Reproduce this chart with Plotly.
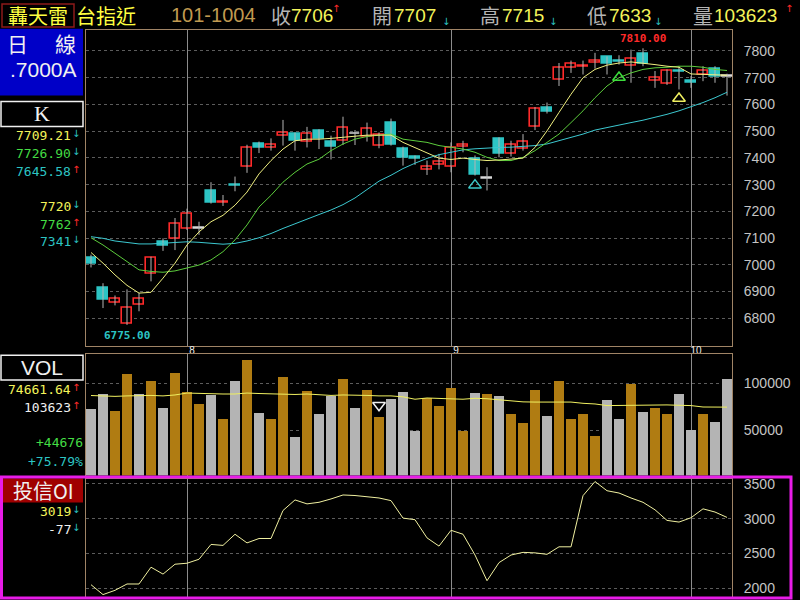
import plotly.graph_objects as go

W, H = 800, 600

# ---------------- data ----------------
title_name = "轟天雷"
title_sym = "台指近"
date_label = "101-1004"
month_start_idx = [8, 30, 50]
month_labels = ["8", "9", "10"]

opens = [7024, 6913, 6856, 6778, 6851, 6965, 7084, 7096, 7136, 7136,
         7275, 7230, 7300, 7368, 7452, 7438, 7482, 7489, 7460, 7500,
         7460, 7462, 7489, 7478, 7446, 7532, 7433, 7403, 7357, 7372,
         7366, 7440, 7396, 7324, 7470, 7415, 7433, 7516, 7588, 7693,
         7737, 7740, 7755, 7777, 7763, 7745, 7789, 7688, 7677, 7727,
         7690, 7712, 7734, 7707]
highs = [7038, 6931, 6885, 6908, 6894, 7030, 7099, 7175, 7210, 7161,
         7309, 7261, 7330, 7449, 7461, 7473, 7542, 7495, 7516, 7507,
         7483, 7554, 7504, 7532, 7495, 7547, 7442, 7409, 7390, 7415,
         7458, 7464, 7409, 7365, 7477, 7464, 7489, 7590, 7607, 7755,
         7764, 7764, 7793, 7780, 7784, 7805, 7810, 7725, 7731, 7743,
         7706, 7743, 7743, 7715]
lows = [6990, 6838, 6848, 6775, 6826, 6938, 7052, 7055, 7130, 7112,
        7229, 7220, 7275, 7344, 7418, 7427, 7446, 7427, 7439, 7433,
        7394, 7448, 7448, 7461, 7436, 7446, 7371, 7374, 7336, 7357,
        7346, 7421, 7334, 7278, 7402, 7405, 7427, 7504, 7566, 7669,
        7718, 7712, 7734, 7712, 7749, 7681, 7743, 7662, 7673, 7656,
        7662, 7687, 7681, 7633]
closes = [7004, 6867, 6871, 6838, 6873, 7027, 7072, 7152, 7189, 7136,
          7232, 7234, 7294, 7438, 7438, 7450, 7494, 7465, 7489, 7470,
          7440, 7513, 7489, 7510, 7485, 7448, 7400, 7398, 7365, 7384,
          7437, 7448, 7336, 7324, 7415, 7449, 7461, 7584, 7572, 7737,
          7750, 7746, 7763, 7750, 7758, 7770, 7752, 7700, 7725, 7723,
          7682, 7727, 7703, 7706]

ma5 = [7046, 7006, 6962, 6923, 6894, 6897, 6950, 7006, 7074, 7123,
       7161, 7185, 7223, 7272, 7340, 7390, 7433, 7464, 7470, 7470,
       7473, 7477, 7480, 7485, 7485, 7485, 7458, 7439, 7421, 7399,
       7394, 7399, 7394, 7390, 7392, 7396, 7399, 7439, 7501, 7570,
       7638, 7700, 7731, 7747, 7755, 7759, 7755, 7749, 7743, 7739,
       7714, 7712, 7711, 7709.21]
ma10 = [7101, 7074, 7043, 7012, 6981, 6975, 6972, 6977, 6987, 6999,
        7018, 7049, 7093, 7149, 7216, 7260, 7309, 7346, 7377, 7395,
        7427, 7452, 7470, 7480, 7485, 7489, 7470, 7464, 7458, 7446,
        7439, 7433, 7421, 7402, 7390, 7390, 7402, 7427, 7458, 7489,
        7532, 7576, 7625, 7669, 7700, 7718, 7731, 7737, 7739, 7743,
        7743, 7739, 7731, 7726.90]
ma20 = [7105, 7099, 7089, 7084, 7078, 7078, 7080, 7084, 7086, 7084,
        7080, 7077, 7080, 7089, 7101, 7117, 7136, 7154, 7173, 7188,
        7205, 7225, 7250, 7282, 7313, 7335, 7360, 7380, 7398, 7412,
        7422, 7430, 7434, 7437, 7439, 7440, 7442, 7446, 7452, 7464,
        7477, 7489, 7504, 7514, 7524, 7532, 7541, 7551, 7563, 7576,
        7591, 7607, 7625, 7645.58]
next_ma = [(7720, False), (7762, True), (7341, False)]

volume = [72800, 88700, 69900, 109000, 88700, 101800, 73800, 110000, 90400, 77300,
          87600, 62100, 101800, 124000, 68100, 62100, 105700, 43300, 91200, 66700,
          85800, 103900, 73800, 92200, 63800, 83400, 90000, 48900, 84000, 75200,
          95100, 49700, 89400, 88000, 85800, 67400, 58200, 92200, 65600, 101800,
          62100, 67400, 44400, 81600, 61400, 98600, 68800, 73800, 67400, 88000,
          50400, 66700, 58947, 103623]
vol_up = ["d", "d", "u", "u", "d", "u", "d", "u", "u", "u",
          "d", "u", "d", "u", "d", "u", "u", "d", "u", "d",
          "d", "u", "d", "u", "u", "d", "d", "d", "u", "u",
          "u", "u", "d", "u", "d", "u", "u", "u", "d", "u",
          "u", "u", "u", "d", "d", "u", "d", "u", "u", "d",
          "d", "u", "d", "d"]
vol_ma = [86900, 86500, 86000, 86500, 87000, 87000, 86500, 87500, 89500, 89000,
          88500, 88500, 88500, 89500, 89000, 88500, 88000, 88000, 88500, 87500,
          87000, 87500, 87500, 87000, 86500, 86500, 85500, 83000, 84300, 83500,
          83400, 83000, 84000, 83500, 82300, 81500, 80200, 80000, 79800, 79800,
          80000, 78700, 78000, 76300, 76500, 77000, 77000, 76800, 77000, 76600,
          76300, 74800, 74500, 74661.64]

oi = [2053, 1911, 1972, 2063, 2063, 2304, 2205, 2347, 2361, 2418,
      2631, 2617, 2777, 2653, 2716, 2716, 3118, 3270, 3213, 3236,
      3284, 3341, 3333, 3317, 3298, 3260, 3009, 2986, 2725, 2607,
      2834, 2777, 2479, 2110, 2370, 2479, 2517, 2510, 2489, 2597,
      2597, 3331, 3534, 3402, 3369, 3298, 3236, 3128, 2976, 2952,
      3014, 3142, 3096, 3019]

sig_idx = [32, 44, 49]
sig_val = [7298, 7701, 7622]
sig_col = ["#3cc8c8", "#3cdc3c", "#f0f060"]
vsig_idx = [24]
vsig_val = [76600]

price_ticks = [6800, 6900, 7000, 7100, 7200, 7300, 7400, 7500, 7600, 7700, 7800]
vol_ticks = [50000, 100000]
oi_ticks = [2000, 2500, 3000, 3500]

# ---------------- style ----------------
FRAME = "#a08466"
GRID = "#5c5c5c"
MONTH = "#8c8c8c"
RED = "#ff2a2a"
CYAN = "#2cc4c4"
YEL = "#f4f45a"
GRN = "#44dc44"
WHITE = "#f0f0f0"
MONO = "DejaVu Sans Mono"
SANS = "Liberation Sans"
CJK = "Noto Sans CJK TC"

n = len(closes)
idx = list(range(n))

fig = go.Figure()

# wicks
wx, wy = [], []
for i in idx:
    wx += [i, i, None]
    wy += [lows[i], highs[i], None]
fig.add_trace(go.Scatter(x=wx, y=wy, mode="lines", line=dict(color="#b4b4b4", width=1),
                         xaxis="x", yaxis="y", hoverinfo="skip"))

# bodies
base, hgt, fill, edge = [], [], [], []
for o, c in zip(opens, closes):
    d = abs(c - o)
    if d <= 1:
        base.append(min(o, c) - 1); hgt.append(2); fill.append("#d8d8d8"); edge.append("#d8d8d8")
    elif c > o:
        base.append(o); hgt.append(max(d, 3)); fill.append("black"); edge.append(RED)
    else:
        base.append(c); hgt.append(max(d, 3)); fill.append(CYAN); edge.append(CYAN)
fig.add_trace(go.Bar(x=idx, y=hgt, base=base, width=0.76,
                     marker=dict(color=fill, line=dict(color=edge, width=1.6)),
                     xaxis="x", yaxis="y", hoverinfo="skip"))

for arr, col in [(ma20, "#3cc8d0"), (ma10, "#5ccc3c"), (ma5, "#f0f080")]:
    fig.add_trace(go.Scatter(x=idx, y=arr, mode="lines", line=dict(color=col, width=1),
                             xaxis="x", yaxis="y", hoverinfo="skip"))

fig.add_trace(go.Scatter(x=sig_idx, y=sig_val, mode="markers",
                         marker=dict(symbol="triangle-up-open", size=11, color=sig_col,
                                     line=dict(width=1.5, color=sig_col)),
                         xaxis="x", yaxis="y", hoverinfo="skip"))

# volume
vcol = ["#b07c12" if u == "u" else "#b4b4b4" for u in vol_up]
fig.add_trace(go.Bar(x=idx, y=volume, width=0.82, marker=dict(color=vcol, line=dict(width=0)),
                     xaxis="x2", yaxis="y2", hoverinfo="skip"))
fig.add_trace(go.Scatter(x=idx, y=vol_ma, mode="lines", line=dict(color="#f0f060", width=1),
                         xaxis="x2", yaxis="y2", hoverinfo="skip"))
fig.add_trace(go.Scatter(x=vsig_idx, y=vsig_val, mode="markers",
                         marker=dict(symbol="triangle-down-open", size=11, color=WHITE,
                                     line=dict(width=1.5, color=WHITE)),
                         xaxis="x2", yaxis="y2", hoverinfo="skip"))

# OI
fig.add_trace(go.Scatter(x=idx, y=oi, mode="lines", line=dict(color="#f0f0a0", width=1),
                         xaxis="x3", yaxis="y3", hoverinfo="skip"))

# ---------------- axes ----------------
xdom = [86 / W, 732 / W]
def xax(show_labels, anchor):
    return dict(domain=xdom, range=[-5 / 12, n - 1 + 5 / 12], anchor=anchor,
                tickvals=month_start_idx, ticktext=month_labels, showticklabels=show_labels,
                showgrid=True, gridcolor=MONTH, gridwidth=1, zeroline=False,
                showline=True, mirror=True, linecolor=FRAME, linewidth=1, ticks="",
                tickfont=dict(size=10, color=WHITE, family=SANS),
                ticklabelstandoff=-5, ticklabelshift=5, fixedrange=True)

def yax(dom, rng, ticks, anchor):
    return dict(domain=[1 - dom[1] / H, 1 - dom[0] / H], range=rng, anchor=anchor, side="right",
                tickvals=ticks, ticktext=[str(t) for t in ticks],
                showgrid=True, gridcolor=GRID, griddash="dot", gridwidth=1, zeroline=False,
                showline=True, mirror=True, linecolor=FRAME, linewidth=1, ticks="",
                tickfont=dict(size=14, color="#c4c4c4", family=SANS),
                ticklabelstandoff=8, fixedrange=True)

fig.update_layout(
    width=W, height=H, margin=dict(l=0, r=0, t=0, b=0),
    paper_bgcolor="black", plot_bgcolor="black", showlegend=False,
    barmode="overlay", bargap=0,
    xaxis=xax(True, "y"),
    xaxis2=xax(False, "y2"),
    xaxis3=xax(False, "y3"),
    yaxis=yax((27, 345), [6695, 7879], price_ticks, "x"),
    yaxis2=yax((353, 475), [2500, 130400], vol_ticks, "x2"),
    yaxis3=yax((478, 597), [1876, 3576], oi_ticks, "x3"),
)

# ---------------- texts & boxes ----------------
ann = []
shapes = []

def label(x, y, text, color, size, family=MONO, xanchor="left", yanchor="middle"):
    ann.append(dict(x=x / W, y=1 - y / H, xref="paper", yref="paper", text=text,
                    showarrow=False, font=dict(color=color, size=size, family=family),
                    xanchor=xanchor, yanchor=yanchor, borderpad=0))

def arrow(x, y, up):
    label(x, y, "↑" if up else "↓", RED if up else CYAN, 10, "DejaVu Sans", xanchor="center")

def rect(x0, y0, x1, y1, line, fillc=None, lw=1.5):
    shapes.append(dict(type="rect", xref="paper", yref="paper",
                       x0=x0 / W, x1=x1 / W, y0=1 - y0 / H, y1=1 - y1 / H,
                       line=dict(color=line, width=lw), fillcolor=fillc,
                       layer="above" if fillc is None else "below"))

# header
rect(2, 1, 74, 24, "#8c1a1a")
label(38, 12.5, title_name, "#ffff40", 20, CJK, xanchor="center")
label(75, 12.5, title_sym, "#ffff40", 20, CJK)
label(170, 12.5, date_label, "#c09a50", 20, SANS)
last = n - 1
hdr = [("收", closes, 270, 290, 336), ("開", opens, 371, 393, 446),
       ("高", highs, 479, 501, 553), ("低", lows, 586, 608, 658)]
for ch, arr, xc, xn, xa in hdr:
    label(xc, 12.5, ch, "#b4b4b4", 20, CJK)
    label(xn, 12.5, str(arr[last]), YEL, 19, SANS)
    ref = closes[last - 1] if ch == "收" else arr[last - 1]
    up = arr[last] > ref
    arrow(xa, 6 if up else 19, up)
label(692, 12.5, "量", "#b4b4b4", 20, CJK)
label(713, 12.5, str(volume[last]), YEL, 19, SANS)
arrow(789, 6 if volume[last] > volume[last - 1] else 19, volume[last] > volume[last - 1])

# left panel: price
rect(0, 26, 83, 93, "#0000c8", "#0000c8", 0)
label(17, 40, "日", WHITE, 21, CJK, xanchor="center")
label(65, 40, "線", WHITE, 21, CJK, xanchor="center")
label(43, 67, ".7000A", WHITE, 21, SANS, xanchor="center")
rect(1, 99, 83, 124, WHITE)
label(42, 111.5, "K", WHITE, 22, "Liberation Serif", xanchor="center")
for arr, col, yy in [(ma5, YEL, 133), (ma10, GRN, 151), (ma20, CYAN, 169)]:
    label(72, yy, f"{arr[-1]:.2f}", col, 13, MONO, xanchor="right")
    arrow(76, yy - 2, arr[-1] > arr[-2])
for (val, up), col, yy in zip(next_ma, [YEL, GRN, CYAN], [205, 223, 240]):
    label(72, yy, str(val), col, 13, MONO, xanchor="right")
    arrow(76, yy - 2, up)

# left panel: volume
rect(1, 354, 83, 379, WHITE)
label(42, 366.5, "VOL", WHITE, 21, SANS, xanchor="center")
label(72, 388, f"{vol_ma[-1]:.2f}", YEL, 13, MONO, xanchor="right")
arrow(76, 386, vol_ma[-1] > vol_ma[-2])
label(72, 407, str(volume[-1]), WHITE, 13, MONO, xanchor="right")
arrow(76, 405, volume[-1] > volume[-2])
dv = volume[-1] - volume[-2]
label(84, 442, f"{dv:+d}", GRN, 13, MONO, xanchor="right")
label(84, 461, f"{dv / volume[-2] * 100:+.2f}%", CYAN, 13, MONO, xanchor="right")

# left panel: OI
rect(3, 478, 83, 502, "#a00000", "#a00000", 0)
label(43, 490, "投信OI", WHITE, 20, CJK, xanchor="center")
label(72, 511, str(oi[-1]), YEL, 13, MONO, xanchor="right")
arrow(76, 509, oi[-1] > oi[-2])
label(72, 529, f"{oi[-1] - oi[-2]:+d}".replace("+", ""), WHITE, 13, MONO, xanchor="right")
arrow(76, 527, oi[-1] > oi[-2])

# magenta frame around OI panel
rect(1.5, 476.5, 791, 598, "#e81ce8", None, 3)

# extreme labels
hi_i = max(idx, key=lambda i: highs[i])
lo_i = min(idx, key=lambda i: lows[i])
ann.append(dict(x=hi_i, y=highs[hi_i], xref="x", yref="y", text=f"{highs[hi_i]:.2f}",
                showarrow=False, yanchor="bottom", yshift=1,
                font=dict(color=RED, size=11, family=MONO, weight="bold")))
ann.append(dict(x=lo_i, y=lows[lo_i], xref="x", yref="y", text=f"{lows[lo_i]:.2f}",
                showarrow=False, yanchor="top", yshift=-2,
                font=dict(color=CYAN, size=11, family=MONO, weight="bold")))

fig.update_layout(annotations=ann, shapes=shapes)
fig.write_html("out.html", config={"displayModeBar": False},
               post_script="document.body.style.margin='0';document.body.style.background='black';")
